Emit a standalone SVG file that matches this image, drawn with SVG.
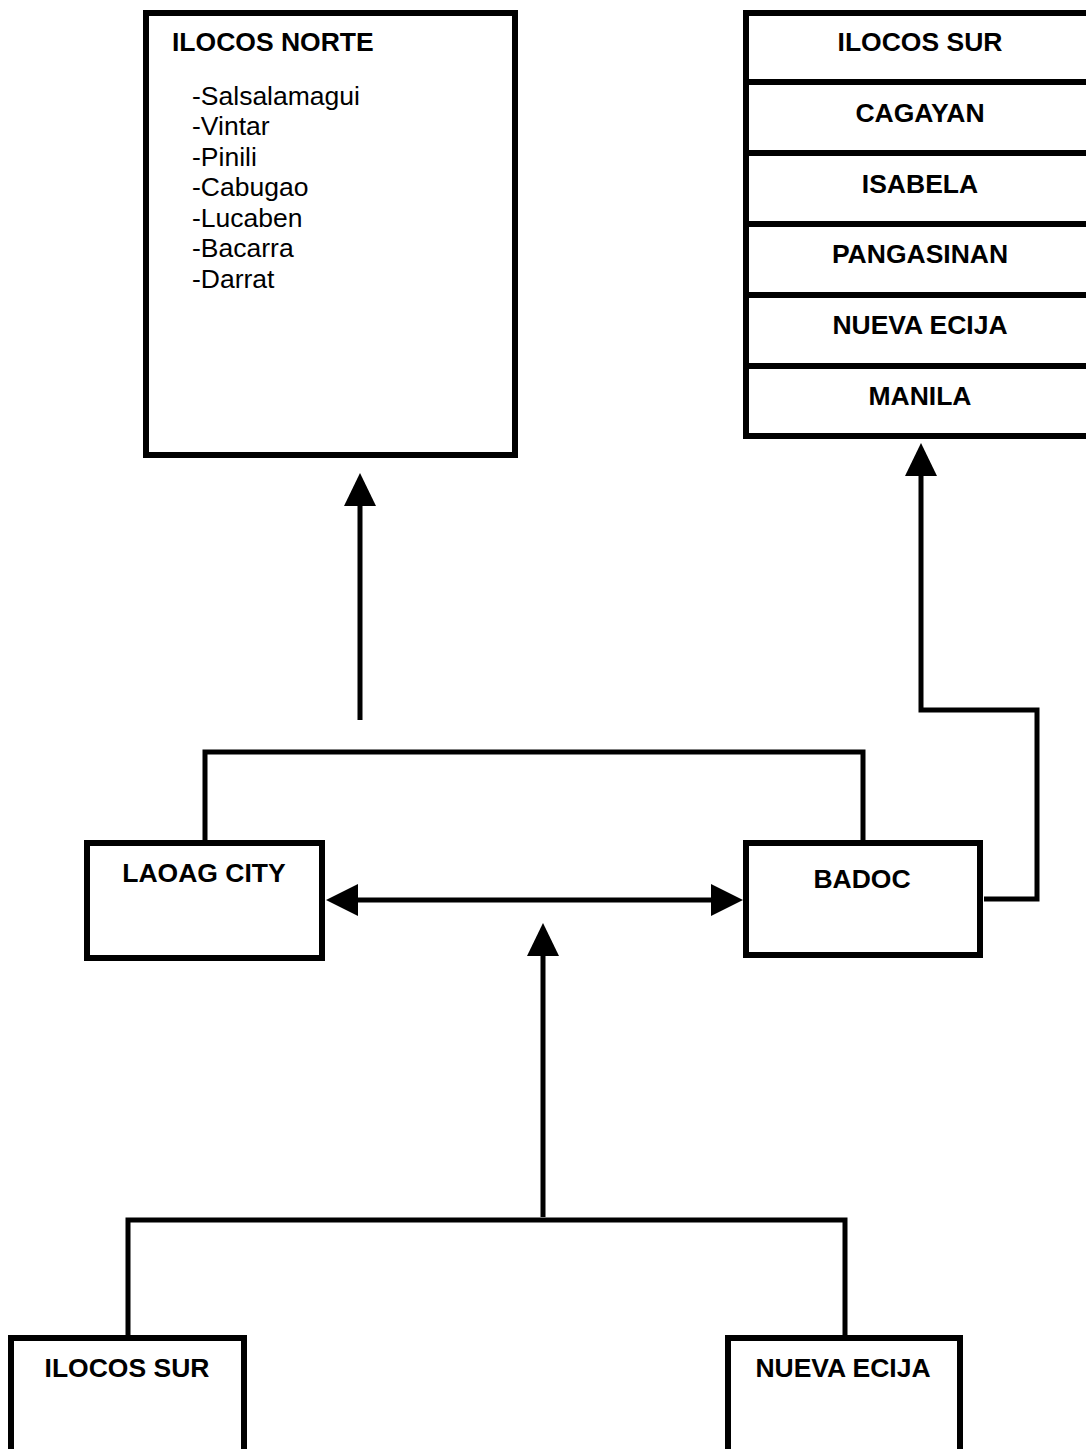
<svg xmlns="http://www.w3.org/2000/svg" width="1086" height="1449" viewBox="0 0 1086 1449">
<style>
.box{fill:#fff;stroke:#000;stroke-width:6}
.div{stroke:#000;stroke-width:6}
.ln{fill:none;stroke:#000;stroke-width:5}
.t{font-family:"Liberation Sans",Arial,sans-serif;font-size:26.5px;font-weight:bold;fill:#000}
.c{text-anchor:middle}
.l{font-family:"Liberation Sans",Arial,sans-serif;font-size:26.5px;fill:#000}
.ah{fill:#000}
</style>
<rect width="1086" height="1449" fill="#fff"/>
<g id="connectors">
<path class="ln" d="M205 840 V752 H863 V840"/>
<path class="ln" d="M128 1335 V1220 H845 V1335"/>
<line class="ln" x1="360" y1="720" x2="360" y2="500"/>
<polygon class="ah" points="360,473 344,506 376,506"/>
<path class="ln" d="M984 899 H1037 V710 H921 V470"/>
<polygon class="ah" points="921,443 905,476 937,476"/>
<line class="ln" x1="352" y1="900" x2="716" y2="900"/>
<polygon class="ah" points="326,900 358,884 358,916"/>
<polygon class="ah" points="743,900 711,884 711,916"/>
<line class="ln" x1="543" y1="1217" x2="543" y2="950"/>
<polygon class="ah" points="543,923 527,956 559,956"/>
</g>
<g id="ilocos-norte">
<rect class="box" x="146" y="13" width="369" height="442"/>
<text class="t" x="172" y="51">ILOCOS NORTE</text>
<text class="l" x="192" y="105">-Salsalamagui</text>
<text class="l" x="192" y="135">-Vintar</text>
<text class="l" x="192" y="166">-Pinili</text>
<text class="l" x="192" y="196">-Cabugao</text>
<text class="l" x="192" y="227">-Lucaben</text>
<text class="l" x="192" y="257">-Bacarra</text>
<text class="l" x="192" y="288">-Darrat</text>
</g>
<g id="destinations">
<rect class="box" x="746" y="13" width="346" height="423"/>
<line class="div" x1="746" y1="82" x2="1092" y2="82"/>
<line class="div" x1="746" y1="153" x2="1092" y2="153"/>
<line class="div" x1="746" y1="224" x2="1092" y2="224"/>
<line class="div" x1="746" y1="295" x2="1092" y2="295"/>
<line class="div" x1="746" y1="366" x2="1092" y2="366"/>
<text class="t c" x="920" y="51">ILOCOS SUR</text>
<text class="t c" x="920" y="122">CAGAYAN</text>
<text class="t c" x="920" y="193">ISABELA</text>
<text class="t c" x="920" y="263">PANGASINAN</text>
<text class="t c" x="920" y="334">NUEVA ECIJA</text>
<text class="t c" x="920" y="405">MANILA</text>
</g>
<g id="laoag-city">
<rect class="box" x="87" y="843" width="235" height="115"/>
<text class="t c" x="204" y="882">LAOAG CITY</text>
</g>
<g id="badoc">
<rect class="box" x="746" y="843" width="234" height="112"/>
<text class="t c" x="862" y="888">BADOC</text>
</g>
<g id="ilocos-sur">
<rect class="box" x="11" y="1338" width="233" height="130"/>
<text class="t c" x="127" y="1377">ILOCOS SUR</text>
</g>
<g id="nueva-ecija">
<rect class="box" x="728" y="1338" width="232" height="130"/>
<text class="t c" x="843" y="1377">NUEVA ECIJA</text>
</g>
</svg>
